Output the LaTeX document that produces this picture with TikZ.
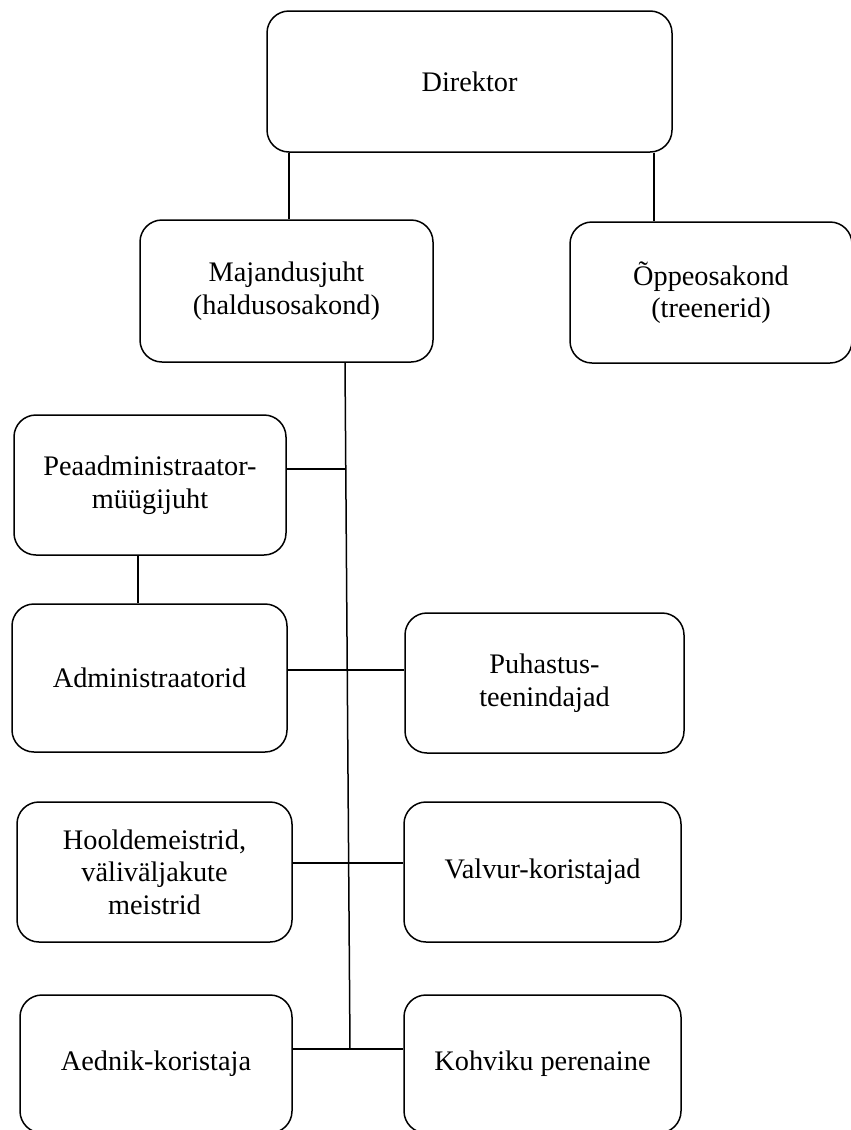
\documentclass[tikz,border=0pt]{standalone}
\usepackage{fontspec}
\setmainfont{Liberation Serif}
\begin{document}
\begin{tikzpicture}[x=1pt,y=-1pt,
  box/.style={draw=black, line width=1.5pt, rounded corners=22pt, align=center,
    inner sep=0pt, font=\fontsize{28.3}{32.5}\selectfont},
  conn/.style={draw=black, line width=1.5pt}]
\useasboundingbox (0,0) rectangle (851,1130);
\node[box, minimum width=405pt, minimum height=141pt] (dir) at (469.5,81.5) {Direktor};
\node[box, minimum width=293pt, minimum height=142pt] (maj) at (286.5,291) {Majandusjuht\\(haldusosakond)};
\node[box, minimum width=282pt, minimum height=141pt] (opp) at (711,292.5) {Õppeosakond\\(treenerid)};
\node[box, minimum width=272pt, minimum height=140pt] (pa) at (150,485) {Peaadministraator-\\müügijuht};
\node[box, minimum width=275pt, minimum height=148pt] (adm) at (149.5,678) {Administraatorid};
\node[box, minimum width=279pt, minimum height=140pt] (puh) at (544.5,683) {Puhastus-\\teenindajad};
\node[box, minimum width=275pt, minimum height=140pt] (hoo) at (154.5,872) {Hooldemeistrid,\\väliväljakute\\meistrid};
\node[box, minimum width=277pt, minimum height=140pt] (val) at (542.5,872) {Valvur-koristajad};
\node[box, minimum width=272pt, minimum height=138pt] (aed) at (156,1064) {Aednik-koristaja};
\node[box, minimum width=277pt, minimum height=138pt] (koh) at (542.5,1064) {Kohviku perenaine};
% connector positions
\coordinate (dl) at (289,0);
\coordinate (dr) at (654,0);
\coordinate (sp) at (345,0);
\coordinate (spb) at (350,1049);
\coordinate (h1) at (346,469);
\coordinate (h2) at (0,670);
\coordinate (h3) at (0,863);
\coordinate (v1) at (138,0);
% Director connectors
\draw[conn] (dl |- dir.south) -- (dl |- maj.north);
\draw[conn] (dr |- dir.south) -- (dr |- opp.north);
% spine
\draw[conn] (sp |- maj.south) -- (spb);
% branches
\draw[conn] (pa.east |- h1) -- (h1);
\draw[conn] (v1 |- pa.south) -- (v1 |- adm.north);
\draw[conn] (adm.east |- h2) -- (puh.west |- h2);
\draw[conn] (hoo.east |- h3) -- (val.west |- h3);
\draw[conn] (aed.east |- spb) -- (koh.west |- spb);
\end{tikzpicture}
\end{document}
